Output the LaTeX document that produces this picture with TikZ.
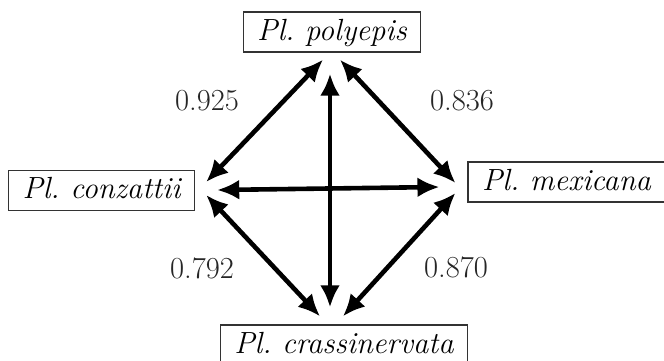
\documentclass[tikz,border=0pt]{standalone}
\usetikzlibrary{arrows.meta,calc}
\begin{document}
\begin{tikzpicture}[x=0.5pt,y=-0.5pt,
  species/.style={draw=black!80,line width=0.7pt,inner xsep=7pt,inner ysep=2.5pt,
    text height=11.5pt,text depth=3.5pt,font=\fontsize{15.3}{18}\selectfont\itshape\frenchspacing},
  link/.style={{Latex[length=11pt,width=10pt]}-{Latex[length=11pt,width=10pt]},line width=2.3pt},
  score/.style={font=\fontsize{15.3}{18}\selectfont,text=black!85}]
\clip (0,0) rectangle (664,360);
\fill[white] (0,0) rectangle (664,360);
\node[species] (poly) at (332,32) {Pl. polyepis};
\node[species] (conz) at (101.5,190.5) {Pl. conzattii};
\node[species] (mex) at (566.5,182) {Pl. mexicana};
\node[species] (crass) at (344,345) {Pl. crassinervata};
\draw[link] ($(poly.south)+(-9,7)$) -- ($(conz.east)+(11,-8.5)$);
\draw[link] ($(poly.south)+(8,7)$) -- ($(mex.west)+(-12,1)$);
\draw[link] ($(poly.south)+(-2,21)$) -- ($(crass.north)+(-14,-17)$);
\draw[link] ($(conz.east)+(22,-0.5)$) -- ($(mex.west)+(-28,5)$);
\draw[link] ($(conz.east)+(11,4.5)$) -- ($(crass.north)+(-24,-8)$);
\draw[link] ($(mex.west)+(-12,11)$) -- ($(crass.north)+(-1,-8)$);
\node[score] (s1) at (207,101) {0.925};
\node[score] (s2) at (462,101) {0.836};
\node[score] (s3) at (202,268) {0.792};
\node[score] (s4) at (456,267) {0.870};
\end{tikzpicture}
\end{document}
